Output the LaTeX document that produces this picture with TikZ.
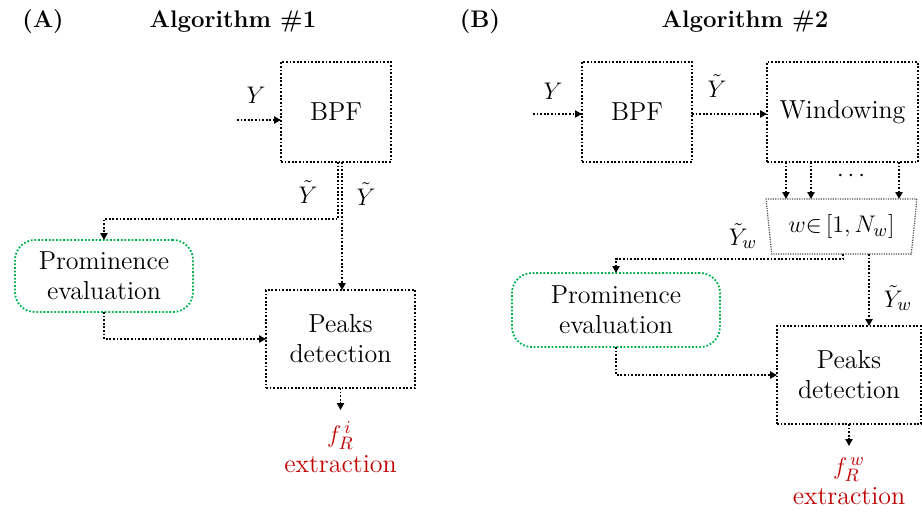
\documentclass[tikz,border=0pt]{standalone}
\usepackage{amsmath}
\usetikzlibrary{arrows.meta,shapes.geometric}
\definecolor{outred}{RGB}{192,0,0}
\definecolor{promgreen}{RGB}{0,176,80}
\definecolor{trapgray}{RGB}{80,80,80}

\tikzset{
  dots/.style={line width=0.9pt, dash pattern=on 0.9pt off 0.9pt},
  txt/.style={font=\fontsize{13}{15}\selectfont, align=center},
  stepbox/.style={draw, dots, txt, inner sep=0pt, outer sep=0pt},
  prombox/.style={draw=promgreen, dots, txt, rounded corners=10pt, inner sep=0pt, outer sep=0pt},
  flow/.style={dots, -{Triangle[length=3.5pt,width=3.6pt]}},
  sig/.style={font=\fontsize{13}{15}\selectfont},
  heading/.style={font=\fontsize{12}{14}\selectfont\bfseries},
  result/.style={txt, text=outred, anchor=north, inner sep=0pt},
}

\begin{document}
\begin{tikzpicture}[x=0.5pt, y=-0.5pt]
  \useasboundingbox (0,0) rectangle (922,511);

  % ---------------- Algorithm #1 ----------------
  \node[heading] (labA) at (43,22) {(A)};
  \node[heading] (titA) at (233,22) {Algorithm \#1};

  \node[stepbox, minimum width=55pt, minimum height=50pt] (bpfA) at (336,112) {BPF};
  \node[prombox, minimum width=89pt, minimum height=36pt] (promA) at (104,276) {Prominence\\evaluation};
  \node[stepbox, minimum width=74.5pt, minimum height=49pt] (peaksA) at (340.5,339) {Peaks\\detection};
  \node[result] (outA) at (340.5,421) {$f_R^{\,i}$\\extraction};

  \coordinate (inA) at (237,120);
  \draw[flow] (inA) -- (bpfA.west |- inA);
  \node[sig] (yA) at (256,95) {$Y$};

  \draw[flow] ([xshift=1pt]bpfA.south) -- ++(0,57) -| (promA.north);
  \draw[flow] ([xshift=3pt]bpfA.south) -- ([xshift=3pt]bpfA.south |- peaksA.north);
  \node[sig] (ytA1) at (308,192) {$\tilde{Y}$};
  \node[sig] (ytA2) at (366,194) {$\tilde{Y}$};

  \draw[flow] (promA.south) |- (peaksA.west);
  \draw[flow, shorten >=5.5pt] (peaksA.south) -- (outA.north);

  % ---------------- Algorithm #2 ----------------
  \node[heading] (labB) at (480,22) {(B)};
  \node[heading] (titB) at (745,22) {Algorithm \#2};

  \node[stepbox, minimum width=55pt, minimum height=50pt] (bpfB) at (637,112) {BPF};
  \node[stepbox, minimum width=75.5pt, minimum height=50pt] (winB) at (842.5,112) {Windowing};
  \node[draw=trapgray, line width=0.6pt, dash pattern=on 0.6pt off 0.6pt, txt,
        trapezium, shape border rotate=180, trapezium left angle=80, trapezium right angle=80,
        trapezium stretches=true, minimum width=75.5pt, minimum height=27.5pt,
        inner sep=0pt, outer sep=0pt] (trapB) at (841.5,226.5) {$w{\in}\,[1,N_w]$};
  \node[prombox, minimum width=104pt, minimum height=37pt] (promB) at (616,310) {Prominence\\evaluation};
  \node[stepbox, minimum width=72pt, minimum height=49pt] (peaksB) at (849,375) {Peaks\\detection};
  \node[result] (outB) at (849,457) {$f_R^{\,w}$\\extraction};

  \coordinate (inB) at (533,114);
  \draw[flow] (inB) -- (bpfB.west |- inB);
  \node[sig] (yB) at (553,91) {$Y$};

  \draw[flow] (bpfB.east |- inB) -- (winB.west |- inB);
  \node[sig] (ytB) at (717,86) {$\tilde{Y}$};

  \draw[flow] ([xshift=-28.25pt]winB.south) -- ([xshift=-28.25pt]winB.south |- trapB.north);
  \draw[flow] ([xshift=-15.75pt]winB.south) -- ([xshift=-15.75pt]winB.south |- trapB.north);
  \draw[flow] ([xshift=28.25pt]winB.south) -- ([xshift=28.25pt]winB.south |- trapB.north);
  \node[sig] (dotsB) at (853,176) {$\cdots$};

  \draw[flow] ([xshift=0.75pt]trapB.south) -- ++(0,5) -| (promB.north);
  \draw[flow] ([xshift=13.75pt]trapB.south) -- ([xshift=13.75pt]trapB.south |- peaksB.north);
  \node[sig] (ywB1) at (743,236) {$\tilde{Y}_w$};
  \node[sig] (ywB2) at (898,298) {$\tilde{Y}_w$};

  \draw[flow] (promB.south) |- (peaksB.west);
  \draw[flow, shorten >=5.5pt] (peaksB.south) -- (outB.north);
\end{tikzpicture}
\end{document}
